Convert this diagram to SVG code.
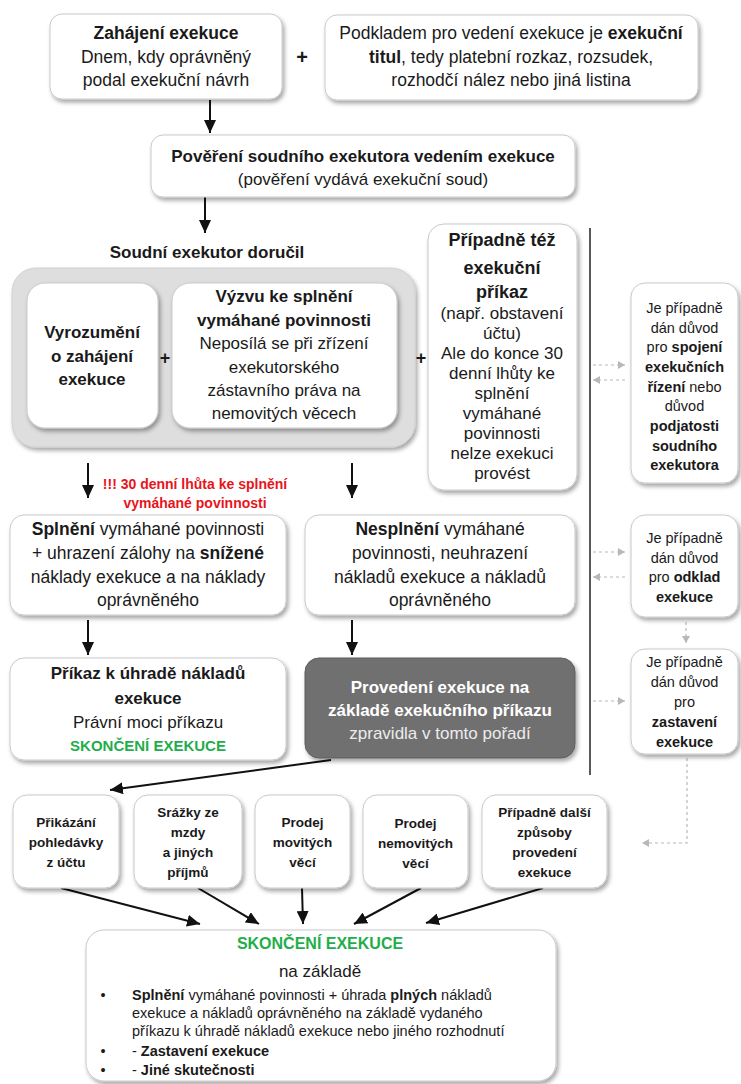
<svg xmlns="http://www.w3.org/2000/svg" width="741" height="1084" viewBox="0 0 741 1084">
<style>
text{font-family:"Liberation Sans",Arial,sans-serif;fill:#1a1a1a;text-anchor:middle}
.b{font-weight:bold}
.box{fill:#fff;stroke:#c9c9c9;stroke-width:1;filter:url(#sh)}
.f16{font-size:16px}
.t17{font-size:17.5px}
.m17{font-size:17px}
.f17{font-size:17px}
.f15{font-size:14.5px}
.f13{font-size:13.5px}
.green{fill:#1fae4b;font-weight:bold}
.red{fill:#e8141b;font-weight:bold;font-size:14px}
.arrow{stroke:#111;stroke-width:2;fill:none;marker-end:url(#ah)}
.dash{stroke:#b8b8b8;stroke-width:1.2;fill:none;stroke-dasharray:3,3;marker-end:url(#ahg)}
.plus{font-size:20px;font-weight:bold}
</style>
<defs>
<filter id="sh" x="-10%" y="-10%" width="125%" height="130%">
<feDropShadow dx="2" dy="3" stdDeviation="2" flood-color="#000" flood-opacity="0.35"/>
</filter>
<marker id="ah" markerUnits="userSpaceOnUse" markerWidth="14" markerHeight="12" refX="13" refY="6" orient="auto">
<path d="M0,0 L13,6 L0,12 z" fill="#111"/>
</marker>
<marker id="ahg" markerUnits="userSpaceOnUse" markerWidth="8" markerHeight="8" refX="7" refY="4" orient="auto">
<path d="M0,0 L7,4 L0,8 z" fill="#b8b8b8"/>
</marker>
</defs>
<rect width="741" height="1084" fill="#fff"/>

<g id="connectors">
<line class="arrow" x1="210" y1="100" x2="210" y2="133"/>
<line class="arrow" x1="205" y1="197" x2="205" y2="233"/>
<line class="arrow" x1="88" y1="463" x2="88" y2="498"/>
<line class="arrow" x1="352" y1="463" x2="352" y2="498"/>
<line class="arrow" x1="88" y1="620" x2="88" y2="655"/>
<line class="arrow" x1="352" y1="620" x2="352" y2="655"/>
<line class="arrow" x1="331" y1="760" x2="110" y2="790"/>
<line class="arrow" x1="61" y1="888" x2="200" y2="924"/>
<line class="arrow" x1="198" y1="888" x2="259" y2="924"/>
<line class="arrow" x1="302" y1="888" x2="303" y2="924"/>
<line class="arrow" x1="421" y1="888" x2="354" y2="924"/>
<line class="arrow" x1="543" y1="888" x2="426" y2="923"/>
<line x1="590" y1="228" x2="590" y2="775" stroke="#222" stroke-width="1.5"/>
<line class="dash" x1="593" y1="365" x2="625" y2="365"/>
<line class="dash" x1="625" y1="380" x2="593" y2="380"/>
<line class="dash" x1="593" y1="552" x2="625" y2="552"/>
<line class="dash" x1="625" y1="577" x2="593" y2="577"/>
<line class="dash" x1="686" y1="622" x2="686" y2="643"/>
<line class="dash" x1="593" y1="701" x2="625" y2="701"/>
<path class="dash" d="M687,758 V843 H642"/>
</g>

<g id="zahajeni">
<rect class="box" x="50" y="14" width="232" height="85" rx="12"/>
<text class="t17 b" x="166" y="39">Zahájení exekuce</text>
<text class="t17" x="166" y="63">Dnem, kdy oprávněný</text>
<text class="t17" x="166" y="86">podal exekuční návrh</text>
</g>
<text class="plus" x="302" y="64">+</text>
<g id="podkladem">
<rect class="box" x="325" y="15" width="373" height="85" rx="12"/>
<text class="t17" x="511" y="39">Podkladem pro vedení exekuce je <tspan class="b">exekuční</tspan></text>
<text class="t17" x="511" y="63"><tspan class="b">titul</tspan>, tedy platební rozkaz, rozsudek,</text>
<text class="t17" x="511" y="86">rozhodčí nález nebo jiná listina</text>
</g>
<g id="povereni">
<rect class="box" x="151" y="135" width="424" height="62" rx="12"/>
<text class="m17 b" x="363" y="162">Pověření soudního exekutora vedením exekuce</text>
<text class="m17" x="363" y="185">(pověření vydává exekuční soud)</text>
</g>
<text class="m17 b" x="207" y="258" id="dorucil">Soudní exekutor doručil</text>

<g id="group-doruceni">
<rect x="12" y="268" width="403" height="179" rx="24" fill="#dedede" stroke="#d0d0d0" filter="url(#sh)"/>
</g>
<g id="vyrozumeni">
<rect class="box" x="27" y="283" width="131" height="145" rx="18"/>
<text class="f17 b" x="92" y="338">Vyrozumění</text>
<text class="f17 b" x="92" y="362">o zahájení</text>
<text class="f17 b" x="92" y="385">exekuce</text>
</g>
<text class="plus" x="165" y="364" style="font-size:18px">+</text>
<g id="vyzva">
<rect class="box" x="172" y="283" width="225" height="145" rx="18"/>
<text class="f17 b" x="284" y="302">Výzvu ke splnění</text>
<text class="f17 b" x="284" y="326">vymáhané povinnosti</text>
<text class="f17" x="284" y="349">Neposílá se při zřízení</text>
<text class="f17" x="284" y="373">exekutorského</text>
<text class="f17" x="284" y="396">zástavního práva na</text>
<text class="f17" x="284" y="419">nemovitých věcech</text>
</g>
<text class="plus" x="421" y="364" style="font-size:18px">+</text>
<g id="prikaz-exekucni">
<rect class="box" x="428" y="224" width="149" height="266" rx="16"/>
<text class="b" style="font-size:18px" x="502" y="246">Případně též</text>
<text class="b" style="font-size:18px" x="502" y="274">exekuční</text>
<text class="b" style="font-size:18px" x="502" y="298">příkaz</text>
<text class="f17" x="502" y="319">(např. obstavení</text>
<text class="f17" x="502" y="339">účtu)</text>
<text class="f17" x="502" y="359">Ale do konce 30</text>
<text class="f17" x="502" y="379">denní lhůty ke</text>
<text class="f17" x="502" y="399">splnění</text>
<text class="f17" x="502" y="419">vymáhané</text>
<text class="f17" x="502" y="439">povinnosti</text>
<text class="f17" x="502" y="459">nelze exekuci</text>
<text class="f17" x="502" y="479">provést</text>
</g>

<g id="spojeni">
<rect class="box" x="631" y="283" width="107" height="200" rx="14"/>
<text class="f15" x="684.5" y="313">Je případně</text>
<text class="f15" x="684.5" y="333">dán důvod</text>
<text class="f15" x="684.5" y="352">pro <tspan class="b">spojení</tspan></text>
<text class="f15 b" x="684.5" y="372">exekučních</text>
<text class="f15" x="684.5" y="392"><tspan class="b">řízení</tspan> nebo</text>
<text class="f15" x="684.5" y="411">důvod</text>
<text class="f15 b" x="684.5" y="431">podjatosti</text>
<text class="f15 b" x="684.5" y="451">soudního</text>
<text class="f15 b" x="684.5" y="470">exekutora</text>
</g>
<g id="odklad">
<rect class="box" x="631" y="515" width="107" height="102" rx="14"/>
<text class="f15" x="684.5" y="543">Je případně</text>
<text class="f15" x="684.5" y="563">dán důvod</text>
<text class="f15" x="684.5" y="582">pro <tspan class="b">odklad</tspan></text>
<text class="f15 b" x="684.5" y="602">exekuce</text>
</g>
<g id="zastaveni">
<rect class="box" x="631" y="649" width="107" height="105" rx="14"/>
<text class="f15" x="684.5" y="667">Je případně</text>
<text class="f15" x="684.5" y="687">dán důvod</text>
<text class="f15" x="684.5" y="707">pro</text>
<text class="f15 b" x="684.5" y="727">zastavení</text>
<text class="f15 b" x="684.5" y="747">exekuce</text>
</g>

<g id="lhuta">
<text class="red" x="195" y="489">!!! 30 denní lhůta ke splnění</text>
<text class="red" x="195" y="508">vymáhané povinnosti</text>
</g>

<g id="splneni">
<rect class="box" x="10" y="515" width="276" height="100" rx="14"/>
<text class="t17" x="148" y="535"><tspan class="b">Splnění</tspan> vymáhané povinnosti</text>
<text class="t17" x="148" y="559">+ uhrazení zálohy na <tspan class="b">snížené</tspan></text>
<text class="t17" x="148" y="583">náklady exekuce a na náklady</text>
<text class="t17" x="148" y="606">oprávněného</text>
</g>
<g id="nesplneni">
<rect class="box" x="305" y="515" width="270" height="100" rx="14"/>
<text class="t17" x="440" y="535"><tspan class="b">Nesplnění</tspan> vymáhané</text>
<text class="t17" x="440" y="559">povinnosti, neuhrazení</text>
<text class="t17" x="440" y="583">nákladů exekuce a nákladů</text>
<text class="t17" x="440" y="606">oprávněného</text>
</g>
<g id="prikaz-uhrada">
<rect class="box" x="10" y="658" width="276" height="102" rx="14"/>
<text class="m17 b" x="148" y="679">Příkaz k úhradě nákladů</text>
<text class="m17 b" x="148" y="704">exekuce</text>
<text class="m17" x="148" y="728">Právní moci příkazu</text>
<text class="green" style="font-size:15px" x="148" y="751">SKONČENÍ EXEKUCE</text>
</g>
<g id="provedeni">
<rect x="305" y="658" width="270" height="100" rx="14" fill="#6f6f6f" stroke="#5e5e5e" filter="url(#sh)"/>
<text class="m17 b" x="440" y="693" style="fill:#fff">Provedení exekuce na</text>
<text class="m17 b" x="440" y="716" style="fill:#fff">základě exekučního příkazu</text>
<text class="m17" x="440" y="739" style="fill:#ececec">zpravidla v tomto pořadí</text>
</g>

<g id="prikazani">
<rect class="box" x="13" y="795" width="106" height="93" rx="14"/>
<text class="f13 b" x="66" y="827">Přikázání</text>
<text class="f13 b" x="66" y="847">pohledávky</text>
<text class="f13 b" x="66" y="867">z účtu</text>
</g>
<g id="srazky">
<rect class="box" x="134" y="795" width="108" height="93" rx="14"/>
<text class="f13 b" x="188" y="817">Srážky ze</text>
<text class="f13 b" x="188" y="837">mzdy</text>
<text class="f13 b" x="188" y="857">a jiných</text>
<text class="f13 b" x="188" y="877">příjmů</text>
</g>
<g id="movite">
<rect class="box" x="255" y="795" width="95" height="93" rx="14"/>
<text class="f13 b" x="302.5" y="827">Prodej</text>
<text class="f13 b" x="302.5" y="847">movitých</text>
<text class="f13 b" x="302.5" y="867">věcí</text>
</g>
<g id="nemovite">
<rect class="box" x="363" y="795" width="105" height="93" rx="14"/>
<text class="f13 b" x="415.5" y="828">Prodej</text>
<text class="f13 b" x="415.5" y="848">nemovitých</text>
<text class="f13 b" x="415.5" y="868">věcí</text>
</g>
<g id="dalsi">
<rect class="box" x="482" y="795" width="125" height="93" rx="14"/>
<text class="f13 b" x="544.5" y="817">Případně další</text>
<text class="f13 b" x="544.5" y="837">způsoby</text>
<text class="f13 b" x="544.5" y="857">provedení</text>
<text class="f13 b" x="544.5" y="877">exekuce</text>
</g>

<g id="skonceni">
<rect class="box" x="86" y="930" width="470" height="151" rx="18"/>
<text class="green" style="font-size:16px" x="320" y="949">SKONČENÍ EXEKUCE</text>
<text class="m17" x="320" y="977">na základě</text>
<g style="font-size:14.5px">
<text x="103" y="1000">•</text>
<text x="132" y="1000" style="text-anchor:start"><tspan class="b">Splnění</tspan> vymáhané povinnosti + úhrada <tspan class="b">plných</tspan> nákladů</text>
<text x="132" y="1018" style="text-anchor:start">exekuce a nákladů oprávněného na základě vydaného</text>
<text x="132" y="1036" style="text-anchor:start">příkazu k úhradě nákladů exekuce nebo jiného rozhodnutí</text>
<text x="103" y="1056">•</text>
<text x="132" y="1056" style="text-anchor:start">- <tspan class="b">Zastavení exekuce</tspan></text>
<text x="103" y="1075">•</text>
<text x="132" y="1075" style="text-anchor:start">- <tspan class="b">Jiné skutečnosti</tspan></text>
</g>
</g>
</svg>
